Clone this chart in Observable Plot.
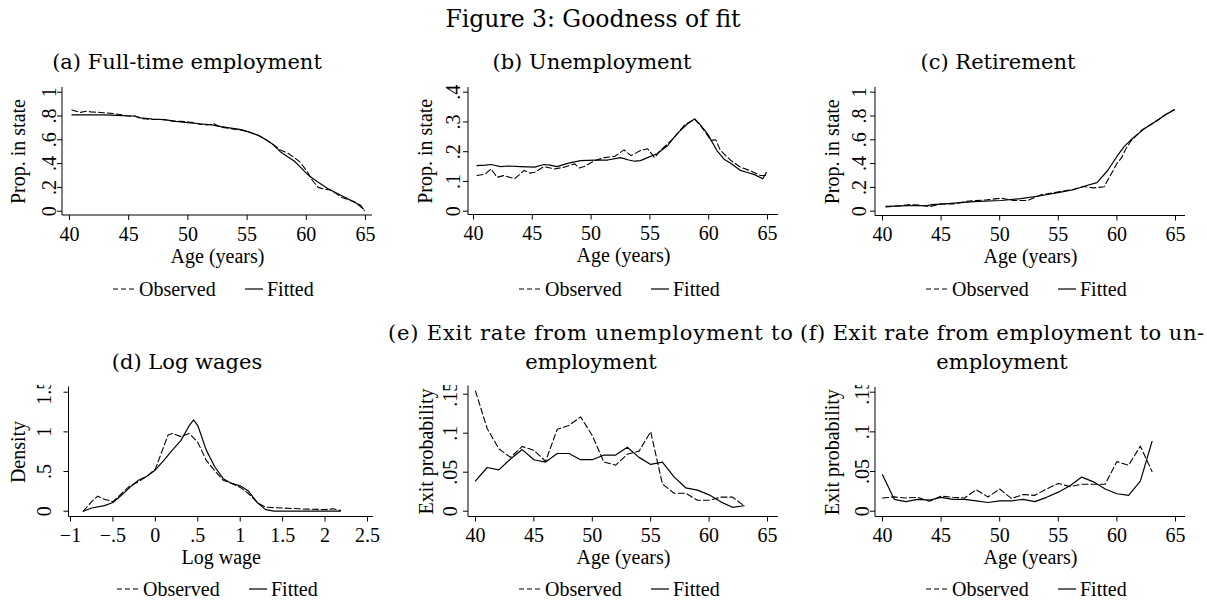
<!DOCTYPE html>
<html>
<head>
<meta charset="utf-8">
<script src="https://cdn.jsdelivr.net/npm/d3@7"></script>
<script src="https://cdn.jsdelivr.net/npm/@observablehq/plot@0.6"></script>
<style>
html, body { margin: 0; padding: 0; background: #fff; }
#page { position: relative; width: 1207px; height: 601px; overflow: hidden; background: #fff; }
#overlay { position: absolute; left: 0; top: 0; pointer-events: none; }
</style>
</head>
<body>
<div id="page"></div>
<script>
// ---------------- DATA ----------------
const figureTitle = "Figure 3: Goodness of fit";
const legendLabels = ["Observed", "Fitted"];

// (a) Full-time employment
const ftObsAge = [40.2, 40.9, 41.4, 41.8, 42.6, 43.2, 43.7, 44.4, 44.9, 45.5, 46.0, 46.5, 47.0, 47.7, 48.3, 48.8, 49.4, 50.0, 50.5, 51.0, 51.6, 52.2, 52.8, 53.3, 53.9, 54.5, 55.0, 55.6, 56.0, 56.6, 57.2, 57.8, 58.4, 59.0, 59.5, 60.1, 60.5, 61.0, 61.5, 62.0, 62.5, 63.0, 63.5, 64.0, 64.6, 64.9];
const ftObs    = [0.85, 0.83, 0.84, 0.835, 0.83, 0.825, 0.82, 0.81, 0.80, 0.80, 0.78, 0.775, 0.77, 0.77, 0.765, 0.755, 0.755, 0.75, 0.745, 0.73, 0.725, 0.735, 0.705, 0.70, 0.69, 0.68, 0.67, 0.65, 0.635, 0.60, 0.56, 0.515, 0.49, 0.45, 0.41, 0.33, 0.26, 0.20, 0.185, 0.18, 0.15, 0.115, 0.10, 0.08, 0.05, 0.005];
const ftFitAge = [40.2, 41, 42, 43, 44, 45, 45.5, 46, 47, 48, 49, 50, 51, 52, 52.8, 53.5, 54.5, 55.2, 56, 56.6, 57.2, 57.8, 58.4, 59, 59.5, 60.1, 60.6, 61.2, 61.8, 62.3, 63, 63.5, 64.2, 64.8];
const ftFit    = [0.81, 0.81, 0.81, 0.81, 0.805, 0.80, 0.80, 0.785, 0.775, 0.77, 0.755, 0.745, 0.735, 0.725, 0.71, 0.70, 0.685, 0.665, 0.635, 0.60, 0.56, 0.50, 0.46, 0.42, 0.37, 0.31, 0.27, 0.23, 0.19, 0.165, 0.13, 0.105, 0.07, 0.02];

// (b) Unemployment
const unObsAge = [40.3, 41.0, 41.5, 42.0, 42.6, 43.0, 43.5, 44.3, 44.8, 45.2, 46.0, 46.9, 47.7, 48.6, 49.0, 49.4, 50.3, 51.1, 52.0, 52.8, 53.4, 54.2, 54.8, 55.4, 55.8, 56.2, 57.1, 57.9, 58.8, 59.3, 60.2, 60.6, 61.0, 61.9, 62.7, 63.6, 64.4, 65.0];
const unObs    = [0.12, 0.125, 0.142, 0.114, 0.12, 0.115, 0.109, 0.137, 0.128, 0.131, 0.15, 0.142, 0.148, 0.159, 0.145, 0.15, 0.17, 0.18, 0.184, 0.206, 0.187, 0.204, 0.21, 0.18, 0.20, 0.215, 0.249, 0.288, 0.31, 0.288, 0.238, 0.24, 0.204, 0.17, 0.148, 0.135, 0.12, 0.12];
const unFitAge = [40.3, 41.0, 41.5, 42.3, 43.0, 44.0, 45.2, 46.0, 46.5, 47.1, 48.0, 49.1, 50.3, 51.4, 52.5, 53.2, 53.7, 54.2, 54.8, 55.6, 56.5, 57.3, 58.2, 58.8, 59.3, 59.9, 60.7, 61.3, 61.9, 62.7, 63.3, 63.9, 64.6, 64.9];
const unFit    = [0.153, 0.155, 0.157, 0.15, 0.152, 0.15, 0.148, 0.157, 0.155, 0.15, 0.161, 0.17, 0.172, 0.172, 0.18, 0.172, 0.168, 0.17, 0.18, 0.193, 0.22, 0.26, 0.294, 0.31, 0.29, 0.26, 0.204, 0.175, 0.16, 0.137, 0.13, 0.123, 0.109, 0.13];

// (c) Retirement
const reObsAge = [40.3, 41.5, 42.4, 43.2, 44.1, 45.0, 46.0, 47.2, 48.9, 50.1, 51.2, 52.4, 53.5, 55.2, 56.3, 57.2, 58.0, 58.9, 59.5, 60.0, 60.4, 60.8, 61.2, 62.1, 63.4, 64.3, 64.9];
const reObs    = [0.035, 0.045, 0.056, 0.05, 0.04, 0.06, 0.06, 0.084, 0.095, 0.11, 0.09, 0.09, 0.137, 0.165, 0.185, 0.207, 0.196, 0.205, 0.31, 0.40, 0.45, 0.53, 0.59, 0.68, 0.76, 0.82, 0.855];
const reFitAge = [40.3, 41.6, 43.0, 43.8, 44.2, 45.0, 46.7, 47.8, 50.1, 51.8, 53.5, 55.2, 56.3, 57.2, 58.3, 59.2, 60.0, 60.6, 61.2, 62.3, 63.4, 64.3, 64.9];
const reFit    = [0.04, 0.045, 0.048, 0.045, 0.055, 0.06, 0.072, 0.08, 0.09, 0.105, 0.13, 0.16, 0.18, 0.21, 0.24, 0.34, 0.46, 0.54, 0.60, 0.69, 0.76, 0.82, 0.85];

// (d) Log wages (density)
const lwObsX = [-0.85, -0.75, -0.68, -0.6, -0.5, -0.4, -0.3, -0.2, -0.1, 0, 0.1, 0.15, 0.2, 0.3, 0.4, 0.5, 0.6, 0.7, 0.8, 0.9, 1.0, 1.1, 1.2, 1.3, 1.5, 1.7, 2.0, 2.1, 2.18];
const lwObs  = [0, 0.12, 0.19, 0.15, 0.12, 0.22, 0.32, 0.37, 0.44, 0.53, 0.82, 0.96, 0.98, 0.94, 0.98, 0.87, 0.64, 0.51, 0.39, 0.35, 0.30, 0.22, 0.11, 0.05, 0.04, 0.03, 0.02, 0.03, 0.01];
const lwFitX = [-0.85, -0.75, -0.6, -0.5, -0.4, -0.3, -0.2, -0.1, 0, 0.1, 0.2, 0.3, 0.4, 0.45, 0.5, 0.6, 0.7, 0.8, 0.9, 1.0, 1.1, 1.2, 1.3, 1.4, 1.5, 2.18];
const lwFit  = [0, 0.04, 0.07, 0.11, 0.2, 0.3, 0.39, 0.44, 0.52, 0.64, 0.77, 0.89, 1.08, 1.15, 1.08, 0.77, 0.56, 0.41, 0.35, 0.32, 0.25, 0.11, 0.02, 0, 0, 0];

// (e) Exit rate from unemployment to employment (annual ages 40..63)
const ueAge = [40, 41, 42, 43, 44, 45, 46, 47, 48, 49, 50, 51, 52, 53, 54, 55, 56, 57, 58, 59, 60, 61, 62, 63];
const ueObs = [0.154, 0.106, 0.080, 0.069, 0.083, 0.078, 0.064, 0.105, 0.110, 0.121, 0.097, 0.063, 0.059, 0.073, 0.077, 0.102, 0.035, 0.023, 0.023, 0.014, 0.014, 0.018, 0.018, 0.007];
const ueFit = [0.039, 0.056, 0.053, 0.067, 0.079, 0.066, 0.063, 0.074, 0.074, 0.066, 0.066, 0.072, 0.072, 0.082, 0.069, 0.060, 0.063, 0.044, 0.030, 0.027, 0.021, 0.012, 0.005, 0.007];

// (f) Exit rate from employment to unemployment (annual ages 40..63)
const euAge = [40, 41, 42, 43, 44, 45, 46, 47, 48, 49, 50, 51, 52, 53, 54, 55, 56, 57, 58, 59, 60, 61, 62, 63];
const euObs = [0.0167, 0.018, 0.0167, 0.0175, 0.0125, 0.019, 0.0175, 0.0167, 0.027, 0.018, 0.028, 0.016, 0.021, 0.020, 0.028, 0.035, 0.031, 0.034, 0.034, 0.034, 0.0625, 0.058, 0.082, 0.050];
const euFit = [0.046, 0.015, 0.012, 0.015, 0.014, 0.0175, 0.015, 0.015, 0.013, 0.011, 0.013, 0.013, 0.015, 0.012, 0.0175, 0.024, 0.032, 0.043, 0.037, 0.028, 0.022, 0.020, 0.038, 0.088];

// Tick values and labels
const ageTicks = [40, 45, 50, 55, 60, 65];
const ageTickLabels = ["40", "45", "50", "55", "60", "65"];
const propTicks = [0, 0.2, 0.4, 0.6, 0.8, 1];
const propTickLabels = ["0", ".2", ".4", ".6", ".8", "1"];
const unTicks = [0, 0.1, 0.2, 0.3, 0.4];
const unTickLabels = ["0", ".1", ".2", ".3", ".4"];
const wageTicks = [-1, -0.5, 0, 0.5, 1, 1.5, 2, 2.5];
const wageTickLabels = ["\u22121", "\u2212.5", "0", ".5", "1", "1.5", "2", "2.5"];
const densTicks = [0, 0.5, 1, 1.5];
const densTickLabels = ["0", ".5", "1", "1.5"];
const exitTicks = [0, 0.05, 0.1, 0.15];
const exitTickLabels = ["0", ".05", ".1", ".15"];

// ---------------- DRAWING ----------------
const page = document.getElementById("page");
const AXIS_FONT = "'Liberation Serif', 'Times New Roman', Times, serif";
const TITLE_FONT = "'DejaVu Serif', serif";

function axisLines(index, scales, values, dim) {
  const x0 = dim.marginLeft, x1 = dim.width - dim.marginRight;
  const y0 = dim.marginTop, y1 = dim.height - dim.marginBottom;
  return d3.create("svg:path")
    .attr("d", `M${x0},${y0}V${y1}H${x1}`)
    .attr("fill", "none").attr("stroke", "black").attr("stroke-width", 1)
    .node();
}

function panel(c) {
  const marginLeft = c.ax0 - c.left;
  const marginRight = c.left + c.width - c.ax1;
  const marginTop = c.ayTop - c.top;
  const marginBottom = c.top + c.height - c.ayBot;
  const chart = Plot.plot({
    width: c.width, height: c.height,
    marginLeft, marginRight, marginTop, marginBottom,
    style: { fontFamily: AXIS_FONT, fontSize: "20px", background: "white", color: "black", overflow: "hidden" },
    x: { domain: c.xDomain, insetLeft: c.xPix[0] - c.ax0, insetRight: c.ax1 - c.xPix[1] },
    y: { domain: c.yDomain, insetBottom: c.ayBot - c.yPix[0], insetTop: c.yPix[1] - c.ayTop },
    marks: [
      axisLines,
      Plot.axisX({ ticks: c.xTicks, tickFormat: d => c.xLabels[c.xTicks.indexOf(d)], tickSize: 5, tickPadding: 6, label: null, fontSize: 20 }),
      Plot.axisY({ ticks: c.yTicks, tickFormat: () => "", tickSize: 5, label: null }),
      Plot.text(c.yTicks, { y: d => d, text: d => c.yLabels[c.yTicks.indexOf(d)], frameAnchor: "left", textAnchor: "middle", lineAnchor: "middle", rotate: -90, dx: -c.yTickOff, fontSize: 20 }),
      Plot.text([c.yTitle], { text: d => d, frameAnchor: "left", textAnchor: "middle", lineAnchor: "middle", rotate: -90, dx: -c.yTitleOff, fontSize: 20 }),
      Plot.text([c.xTitle], { text: d => d, frameAnchor: "bottom", textAnchor: "middle", lineAnchor: "middle", dy: 40.6, fontSize: 20 }),
      Plot.line({ length: c.obsX.length }, { x: c.obsX, y: c.obsY, stroke: "black", strokeWidth: 1.1, strokeDasharray: "6,3" }),
      Plot.line({ length: c.fitX.length }, { x: c.fitX, y: c.fitY, stroke: "black", strokeWidth: 1.2 })
    ]
  });
  chart.style.position = "absolute";
  chart.style.left = c.left + "px";
  chart.style.top = c.top + "px";
  chart.style.maxWidth = "none";
  page.appendChild(chart);
}

const row1 = { top: 78, height: 194 };
const row2 = { top: 385, height: 187 };

panel({ left: 0, width: 400, ...row1, ax0: 62, ax1: 372, ayTop: 87, ayBot: 215,
  xDomain: [40, 65], xPix: [69, 365], yDomain: [0, 1], yPix: [210.7, 91.7],
  xTicks: ageTicks, xLabels: ageTickLabels, yTicks: propTicks, yLabels: propTickLabels,
  xTitle: "Age (years)", yTitle: "Prop. in state", yTickOff: 13, yTitleOff: 43.5,
  obsX: ftObsAge, obsY: ftObs, fitX: ftFitAge, fitY: ftFit });

panel({ left: 400, width: 400, ...row1, ax0: 468, ax1: 778, ayTop: 87, ayBot: 214.5,
  xDomain: [40, 65], xPix: [473, 767], yDomain: [0, 0.4], yPix: [210.7, 91.7],
  xTicks: ageTicks, xLabels: ageTickLabels, yTicks: unTicks, yLabels: unTickLabels,
  xTitle: "Age (years)", yTitle: "Prop. in state", yTickOff: 15, yTitleOff: 43,
  obsX: unObsAge, obsY: unObs, fitX: unFitAge, fitY: unFit });

panel({ left: 800, width: 407, ...row1, ax0: 875, ax1: 1185, ayTop: 87, ayBot: 215.5,
  xDomain: [40, 65], xPix: [882, 1175], yDomain: [0, 1], yPix: [210.7, 91.7],
  xTicks: ageTicks, xLabels: ageTickLabels, yTicks: propTicks, yLabels: propTickLabels,
  xTitle: "Age (years)", yTitle: "Prop. in state", yTickOff: 16, yTitleOff: 43,
  obsX: reObsAge, obsY: reObs, fitX: reFitAge, fitY: reFit });

panel({ left: 0, width: 400, ...row2, ax0: 68.5, ax1: 373, ayTop: 386.5, ayBot: 516.5,
  xDomain: [-1, 2.5], xPix: [70, 367], yDomain: [0, 1.5], yPix: [510.7, 391.7],
  xTicks: wageTicks, xLabels: wageTickLabels, yTicks: densTicks, yLabels: densTickLabels,
  xTitle: "Log wage", yTitle: "Density", yTickOff: 24, yTitleOff: 50,
  obsX: lwObsX, obsY: lwObs, fitX: lwFitX, fitY: lwFit });

panel({ left: 400, width: 400, ...row2, ax0: 468, ax1: 778, ayTop: 385.5, ayBot: 516.5,
  xDomain: [40, 65], xPix: [475, 767], yDomain: [0, 0.15], yPix: [510.7, 393.7],
  xTicks: ageTicks, xLabels: ageTickLabels, yTicks: exitTicks, yLabels: exitTickLabels,
  xTitle: "Age (years)", yTitle: "Exit probability", yTickOff: 18, yTitleOff: 42,
  obsX: ueAge, obsY: ueObs, fitX: ueAge, fitY: ueFit });

panel({ left: 800, width: 407, ...row2, ax0: 875, ax1: 1185, ayTop: 387, ayBot: 516.5,
  xDomain: [40, 65], xPix: [882, 1175], yDomain: [0, 0.15], yPix: [510.7, 391.7],
  xTicks: ageTicks, xLabels: ageTickLabels, yTicks: exitTicks, yLabels: exitTickLabels,
  xTitle: "Age (years)", yTitle: "Exit probability", yTickOff: 13, yTitleOff: 43,
  obsX: euAge, obsY: euObs, fitX: euAge, fitY: euFit });

// ---------------- TITLES, CAPTIONS, LEGENDS ----------------
const ov = d3.select(page).append("svg").attr("id", "overlay")
  .attr("width", 1207).attr("height", 601);

ov.append("text").attr("x", 593).attr("y", 27).attr("text-anchor", "middle")
  .style("font-family", TITLE_FONT).style("font-size", "23.5px").text(figureTitle);

const captions = [
  { text: "(a) Full-time employment", x: 187, y: 69 },
  { text: "(b) Unemployment", x: 592, y: 69 },
  { text: "(c) Retirement", x: 998, y: 69 },
  { text: "(d) Log wages", x: 187, y: 369 },
  { text: "employment", x: 591, y: 369 },
  { text: "employment", x: 1002, y: 369 }
];
captions.forEach(c => ov.append("text").attr("x", c.x).attr("y", c.y).attr("text-anchor", "middle")
  .style("font-family", TITLE_FONT).style("font-size", "21px").text(c.text));

const justified = [
  { text: "(e) Exit rate from unemployment to", x: 388, y: 340, w: 405 },
  { text: "(f) Exit rate from employment to un-", x: 800, y: 340, w: 404 }
];
justified.forEach(c => ov.append("text").attr("x", c.x).attr("y", c.y)
  .attr("textLength", c.w).attr("lengthAdjust", "spacing")
  .style("font-family", TITLE_FONT).style("font-size", "21px").text(c.text));

const legendCenters = [[213, 296], [619, 296], [1026, 296], [217, 596], [619, 596], [1026, 596]];
legendCenters.forEach(([cx, by]) => {
  const g = ov.append("g").style("font-family", AXIS_FONT).style("font-size", "20px");
  g.append("line").attr("x1", cx - 100).attr("x2", cx - 78).attr("y1", by - 7).attr("y2", by - 7)
    .attr("stroke", "black").attr("stroke-width", 1.1).attr("stroke-dasharray", "5,3");
  g.append("text").attr("x", cx - 74).attr("y", by).text(legendLabels[0]);
  g.append("line").attr("x1", cx + 32).attr("x2", cx + 50).attr("y1", by - 7).attr("y2", by - 7)
    .attr("stroke", "black").attr("stroke-width", 1.2);
  g.append("text").attr("x", cx + 54).attr("y", by).text(legendLabels[1]);
});
</script>
</body>
</html>
